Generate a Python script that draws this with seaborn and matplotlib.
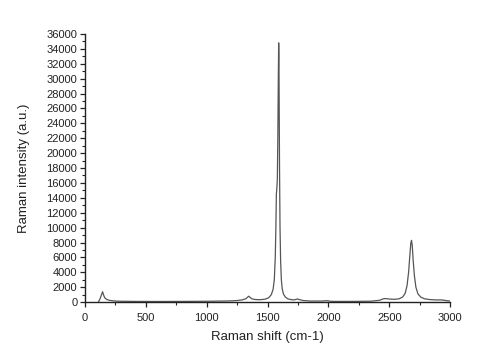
import matplotlib
matplotlib.use("Agg")
import matplotlib.pyplot as plt
from matplotlib.ticker import MultipleLocator
import seaborn as sns
import pandas as pd

raman_shift = [110, 125, 138, 145, 152, 162, 180, 200, 230, 260, 300, 400, 600, 800, 1000,
               1100, 1200, 1250, 1290, 1320, 1335, 1345, 1355, 1370, 1400, 1440, 1480, 1510,
               1530, 1545, 1555, 1563, 1568, 1572, 1576, 1580, 1584, 1588, 1591, 1593, 1595,
               1598, 1602, 1607, 1613, 1620, 1630, 1645, 1665, 1690, 1715, 1735, 1745, 1760,
               1790, 1850, 1950, 1985, 2000, 2015, 2050, 2150, 2250, 2350, 2420, 2450, 2470,
               2500, 2540, 2580, 2610, 2630, 2645, 2658, 2668, 2676, 2682, 2688, 2696, 2706,
               2718, 2735, 2760, 2790, 2830, 2880, 2930, 2970, 3000]
intensity = [0, 500, 1100, 1400, 1000, 600, 350, 250, 180, 140, 120, 100, 90, 100, 120,
             140, 170, 220, 300, 450, 650, 800, 650, 450, 350, 330, 400, 600,
             1000, 1700, 3000, 6000, 10000, 14500, 15300, 16500, 22000, 30000, 34800, 33000, 27000,
             18000, 10000, 5500, 3000, 1800, 1100, 700, 450, 350, 300, 380, 420, 350,
             220, 150, 150, 200, 170, 120, 100, 100, 110, 130, 250, 450, 480,
             420, 380, 450, 700, 1200, 2200, 4000, 6200, 7900, 8300, 7600, 5500, 3500,
             2000, 1100, 650, 450, 350, 300, 300, 200, 150]

df = pd.DataFrame({"shift": raman_shift, "intensity": intensity})

sns.set_style("ticks")
plt.rcParams["font.family"] = ["Liberation Sans", "DejaVu Sans"]

fig = plt.figure(figsize=(4.8, 3.61), dpi=100)
ax = fig.add_axes([0.177, 0.163, 0.761, 0.743])
sns.lineplot(data=df, x="shift", y="intensity", ax=ax, color="#555555", linewidth=0.9)

ax.set_xlim(0, 3000)
ax.set_ylim(0, 36000)
ax.xaxis.set_major_locator(MultipleLocator(500))
ax.xaxis.set_minor_locator(MultipleLocator(250))
ax.yaxis.set_major_locator(MultipleLocator(2000))
ax.yaxis.set_minor_locator(MultipleLocator(1000))
ax.tick_params(axis="both", which="major", direction="out", length=3.5, width=0.9,
               labelsize=8, colors="#222222", pad=2)
ax.tick_params(axis="x", which="major", pad=4)
ax.tick_params(axis="both", which="minor", direction="out", length=2, width=0.8)
for s in ["top", "right"]:
    ax.spines[s].set_visible(False)
for s in ["left", "bottom"]:
    ax.spines[s].set_linewidth(1.0)
    ax.spines[s].set_color("#222222")
ax.set_xlabel("Raman shift (cm-1)", fontsize=9.5, labelpad=6, color="#222222")
ax.set_ylabel("Raman intensity (a.u.)", fontsize=9.5, labelpad=12, color="#222222")

fig.savefig("out.png", dpi=100, facecolor="white")
